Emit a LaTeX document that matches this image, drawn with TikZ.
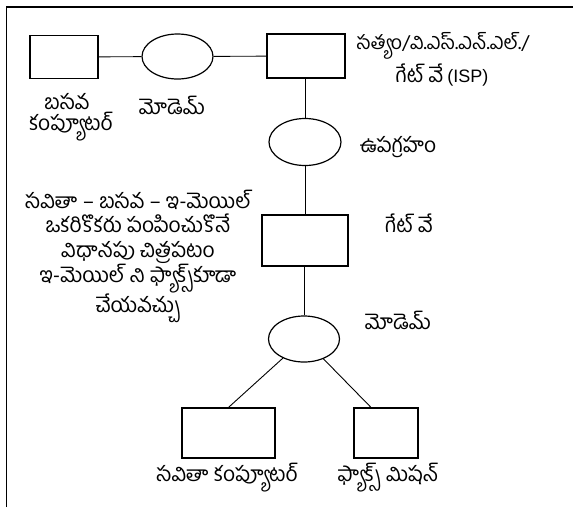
\documentclass[tikz,border=0pt]{standalone}
\usepackage{fontspec}
\setmainfont{Liberation Sans}
\newfontfamily\te[Script=Telugu]{Hind Guntur}
\usetikzlibrary{shapes.geometric,calc}
\begin{document}
\begin{tikzpicture}[x=1pt,y=-1pt,
  rbox/.style={draw,line width=1.2pt,rectangle,inner sep=0pt},
  oval/.style={draw,ellipse,line width=1.2pt,inner sep=0pt,minimum width=71pt,minimum height=46pt},
  conn/.style={line width=0.9pt},
  lbl/.style={font=\te\fontsize{21}{24.3}\selectfont,inner sep=0pt,align=center}]
\useasboundingbox (0,0) rectangle (573,507);
\draw[line width=1.5pt] (6.5,507) -- (6.5,7) -- (573,7);
% shapes
\node[rbox,minimum width=68pt,minimum height=43pt] (b1) at (64,57) {};
\node[oval,minimum width=71pt,minimum height=45pt] (m1) at (177.5,56.5) {};
\node[rbox,minimum width=78pt,minimum height=44pt] (isp) at (306,56) {};
\node[oval,minimum width=72pt,minimum height=47pt] (sat) at (305,142) {};
\node[rbox,minimum width=86pt,minimum height=51pt] (gw) at (305,240.5) {};
\node[oval] (m2) at (304,339) {};
\node[rbox,minimum width=93pt,minimum height=50pt] (sc) at (228.5,433) {};
\node[rbox,minimum width=64pt,minimum height=50pt] (fax) at (386,433) {};
\coordinate (faxin) at ($(fax.north west)!0.27!(fax.north east)$);
% connectors
\draw[conn] (b1) -- (m1);
\draw[conn] (m1) -- (isp);
\draw[conn] (sat.north) -- (sat.north |- isp.south);
\draw[conn] (sat.south) -- (gw.north);
\draw[conn] (gw.south -| m2.north) -- (m2.north);
\draw[conn] (m2) -- (sc.north);
\draw[conn] (m2) -- (faxin);
% labels
\node[lbl,font=\te\fontsize{19.5}{22}\selectfont] (t1) at (443,46) {సత్యం/వి.ఎస్.ఎన్.ఎల్./};
\node[lbl] (t2) at (442,75) {గేట్ వే\hspace{4pt}{\rmfamily\fontsize{18}{20}\selectfont (ISP)}};
\node[lbl] (t3) at (67,102) {బసవ};
\node[lbl] (t4) at (71,127) {కంప్యూటర్};
\node[lbl] (t5) at (172,105) {మోడెమ్};
\node[lbl] (t6) at (398,147) {ఉపగ్రహం};
\node[lbl] (t7) at (409,223) {గేట్ వే};
\node[lbl] (t8) at (138,256.5) {సవితా – బసవ – ఇ-మెయిల్\\ఒకరికొకరు పంపించుకొనే\\విధానపు చిత్రపటం\\ఇ-మెయిల్ ని ఫ్యాక్స్^^^^200cకూడా\\చేయవచ్చు};
\node[lbl] (t9) at (398,320) {మోడెమ్};
\node[lbl] (t10) at (227,478) {సవితా కంప్యూటర్};
\node[lbl] (t11) at (388,478) {ఫ్యాక్స్ మిషన్};
\end{tikzpicture}
\end{document}
